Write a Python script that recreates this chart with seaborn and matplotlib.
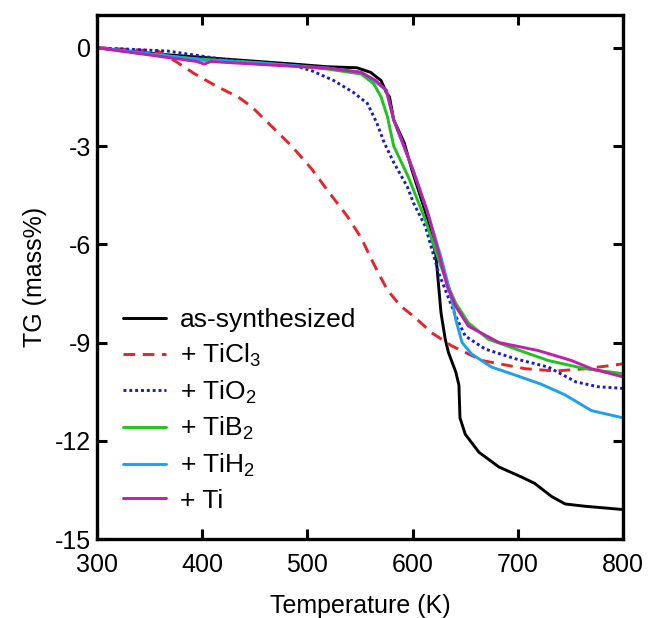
import pandas as pd
from matplotlib import pyplot as plt
import seaborn as sns

# TG curves (T in K, TG in mass%)
as_syn_T = [300, 361, 424, 488, 519, 547, 560, 570, 575, 578, 582, 592, 599, 612, 622, 627,
            631, 634, 641, 644, 645, 650, 663, 682, 703, 716, 732, 745, 764, 800]
as_syn_TG = [0, -0.2, -0.35, -0.5, -0.58, -0.61, -0.75, -1.0, -1.37, -1.5, -2.2, -2.9, -3.7, -5.0,
             -6.3, -8.1, -8.9, -9.3, -9.9, -10.3, -11.3, -11.8, -12.35, -12.8, -13.1, -13.3, -13.7,
             -13.93, -14.0, -14.1]

ticl3_T = [300, 358, 374, 393, 415, 434, 447, 466, 485, 504, 519, 538, 551, 563, 576, 589, 601,
           618, 637, 666, 707, 736, 764, 789, 800]
ticl3_TG = [0, -0.1, -0.4, -0.8, -1.2, -1.5, -1.8, -2.4, -3.0, -3.7, -4.35, -5.15, -5.8, -6.6,
            -7.4, -7.9, -8.2, -8.7, -9.1, -9.55, -9.8, -9.87, -9.8, -9.7, -9.65]

tio2_T = [300, 367, 409, 456, 488, 504, 525, 544, 557, 566, 573, 582, 595, 601, 612, 625, 641,
          650, 669, 698, 729, 755, 776, 800]
tio2_TG = [0, -0.1, -0.3, -0.5, -0.55, -0.7, -1.0, -1.37, -1.7, -2.3, -2.9, -3.5, -4.25, -4.75,
           -5.45, -6.9, -8.2, -8.8, -9.2, -9.5, -9.75, -10.2, -10.35, -10.4]

tib2_T = [300, 350, 400, 450, 519, 551, 563, 570, 576, 582, 596, 612, 625, 634, 641, 653, 672,
          698, 729, 764, 800]
tib2_TG = [0, -0.2, -0.35, -0.45, -0.65, -0.8, -1.1, -1.5, -2.1, -3.0, -3.95, -5.25, -6.5, -7.3,
           -7.8, -8.4, -8.9, -9.2, -9.55, -9.8, -9.95]

tih2_T = [300, 360, 400, 450, 519, 551, 563, 575, 582, 600, 614, 627, 636, 641, 647, 656, 675,
          698, 722, 745, 770, 800]
tih2_TG = [0, -0.22, -0.38, -0.45, -0.62, -0.75, -1.0, -1.3, -2.2, -3.7, -5.0, -6.4, -7.5, -8.3,
           -9.0, -9.35, -9.75, -10.0, -10.27, -10.6, -11.08, -11.3]

ti_T = [300, 361, 395, 402, 408, 450, 519, 551, 565, 575, 582, 600, 614, 625, 633, 641, 653,
        682, 720, 751, 770, 800]
ti_TG = [0, -0.27, -0.42, -0.5, -0.42, -0.5, -0.62, -0.75, -1.0, -1.3, -2.2, -3.7, -5.0, -6.3,
         -7.3, -7.9, -8.5, -9.0, -9.25, -9.55, -9.8, -10.05]

labels = ['as-synthesized', '+ TiCl$_3$', '+ TiO$_2$', '+ TiB$_2$', '+ TiH$_2$', '+ Ti']
series = [(as_syn_T, as_syn_TG), (ticl3_T, ticl3_TG), (tio2_T, tio2_TG),
          (tib2_T, tib2_TG), (tih2_T, tih2_TG), (ti_T, ti_TG)]
colors = ['#000000', '#e8232b', '#1a1ad2', '#1fc21f', '#1e9ff0', '#c01fae']
styles = ['-', (0, (4, 2.6)), (0, (1, 1)), '-', '-', '-']

sns.set_style('ticks')
plt.rcParams['font.family'] = ['Liberation Sans', 'DejaVu Sans']
plt.rcParams['mathtext.fontset'] = 'custom'
plt.rcParams['mathtext.rm'] = 'Liberation Sans'
plt.rcParams['mathtext.it'] = 'Liberation Sans'
plt.rcParams['axes.unicode_minus'] = False
for key in ['text.color', 'axes.labelcolor', 'xtick.color', 'ytick.color']:
    plt.rcParams[key] = 'black'

fig, ax = plt.subplots(figsize=(6.49, 6.18), dpi=100)
fig.subplots_adjust(left=0.1495, right=0.960, bottom=0.1278, top=0.9757)

for (t, tg), lab, col, ls in zip(series, labels, colors, styles):
    df = pd.DataFrame({'T': t, 'TG': tg})
    sns.lineplot(data=df, x='T', y='TG', ax=ax, color=col, linestyle=ls,
                 linewidth=2.1, label=lab, sort=False)

ax.set_xlim(300, 800)
ax.set_ylim(-15, 1)
ax.set_xticks([300, 400, 500, 600, 700, 800])
ax.set_yticks([-15, -12, -9, -6, -3, 0])
ax.set_xlabel('Temperature (K)', fontsize=18, labelpad=12)
ax.set_ylabel('TG (mass%)', fontsize=18, labelpad=6)
ax.tick_params(direction='in', length=7, width=2.2, labelsize=18,
               top=True, right=True)
ax.tick_params(axis='x', pad=10)
ax.tick_params(axis='y', pad=4)
for sp in ax.spines.values():
    sp.set_linewidth(2.4)
    sp.set_color('black')

ax.legend(loc='lower left', frameon=False, fontsize=19, handlelength=1.63,
          handletextpad=0.5, labelspacing=0.36, borderaxespad=0.3,
          bbox_to_anchor=(0.015, 0.015))

plt.savefig('out.png', dpi=100)
plt.close()
